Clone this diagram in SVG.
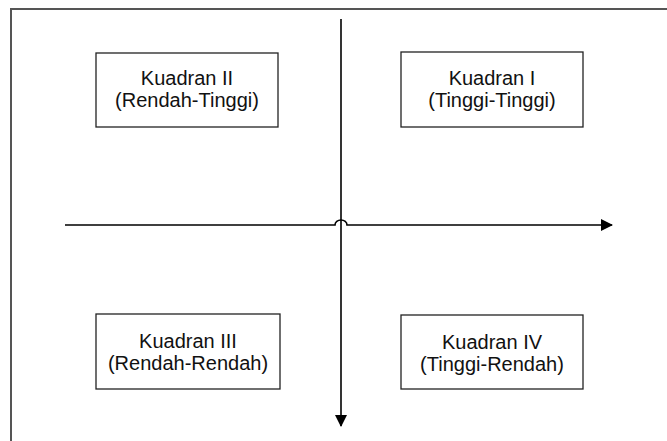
<svg xmlns="http://www.w3.org/2000/svg" width="667" height="441" viewBox="0 0 667 441">
<style>
.box{fill:#fff;stroke:#222;stroke-width:1.3}
.lbl{font-family:"Liberation Sans",Arial,sans-serif;font-size:20px;fill:#111;text-anchor:middle}
.axis{fill:none;stroke:#000;stroke-width:1.6}
.frame{fill:none;stroke:#555;stroke-width:2}
</style>
<defs>
<marker id="ah" viewBox="0 0 12 12" refX="11" refY="6" markerWidth="12" markerHeight="12" markerUnits="userSpaceOnUse" orient="auto">
<path d="M0,0 L12,6 L0,12 Z" fill="#000"/>
</marker>
</defs>
<rect width="667" height="441" fill="#fff"/>
<path class="frame" d="M11,441 L11,9 L667,9"/>
<g id="connectors">
<path class="axis" d="M65,225 L335,225 A6,5 0 0 1 347,225 L612,225" marker-end="url(#ah)"/>
<path class="axis" d="M341,19 L341,426" marker-end="url(#ah)"/>
</g>
<g id="q2">
<rect class="box" x="96" y="53" width="182" height="74"/>
<text class="lbl" x="187" y="85">Kuadran II</text>
<text class="lbl" x="187" y="107">(Rendah-Tinggi)</text>
</g>
<g id="q1">
<rect class="box" x="401" y="52" width="182" height="75"/>
<text class="lbl" x="492" y="85">Kuadran I</text>
<text class="lbl" x="492" y="107">(Tinggi-Tinggi)</text>
</g>
<g id="q3">
<rect class="box" x="96" y="314" width="184" height="75"/>
<text class="lbl" x="188" y="348">Kuadran III</text>
<text class="lbl" x="188" y="370">(Rendah-Rendah)</text>
</g>
<g id="q4">
<rect class="box" x="401" y="315" width="182" height="74"/>
<text class="lbl" x="492" y="349">Kuadran IV</text>
<text class="lbl" x="492" y="371">(Tinggi-Rendah)</text>
</g>
</svg>
